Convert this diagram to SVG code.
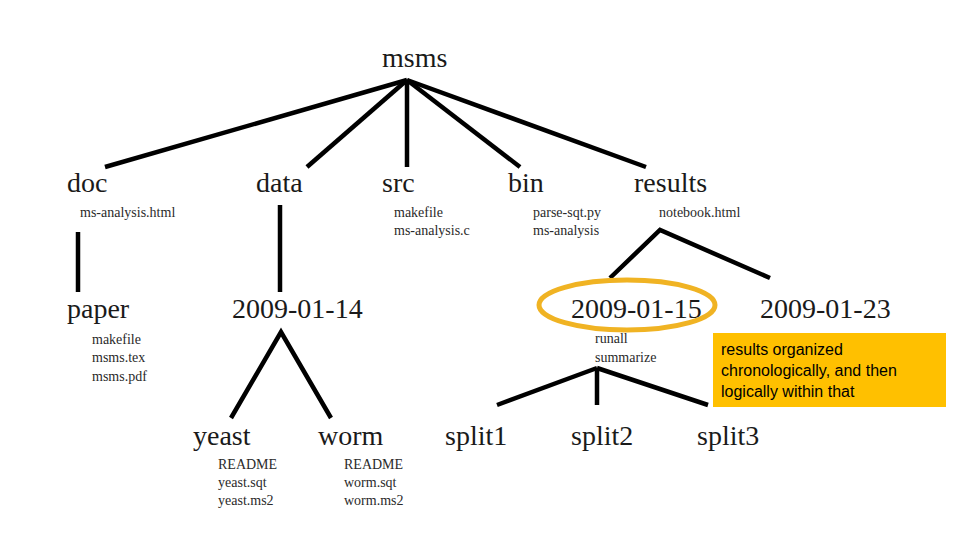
<svg xmlns="http://www.w3.org/2000/svg" width="960" height="540" viewBox="0 0 960 540">
<style>
.big{font-family:"Liberation Serif","DejaVu Serif",serif;font-size:28px;fill:#1a1a1a}
.small{font-family:"Liberation Serif","DejaVu Serif",serif;font-size:14px;fill:#2a2a2a}
.edge{stroke:#000;stroke-width:4.5;fill:none;stroke-linecap:butt}
.note{font-family:"Liberation Sans","Noto Sans",sans-serif;font-size:16px;fill:#000}
</style>
<rect width="960" height="540" fill="#fff"/>
<g id="connectors">
<line class="edge" x1="407" y1="80" x2="105" y2="167"/>
<line class="edge" x1="407" y1="80" x2="307" y2="167"/>
<line class="edge" x1="407" y1="80" x2="407" y2="167"/>
<line class="edge" x1="407" y1="80" x2="520" y2="167"/>
<line class="edge" x1="407" y1="80" x2="646" y2="167"/>
<line class="edge" x1="78" y1="232" x2="78" y2="292"/>
<line class="edge" x1="280" y1="205" x2="280" y2="292"/>
<polyline class="edge" points="610,278 660,230 770,278"/>
<polyline class="edge" points="231,418 281,332 331,418"/>
<line class="edge" x1="597" y1="368" x2="497" y2="405"/>
<line class="edge" x1="597" y1="368" x2="597" y2="405"/>
<line class="edge" x1="597" y1="368" x2="708" y2="405"/>
</g>
<g id="msms"><text class="big" x="382" y="67">msms</text></g>
<g id="doc"><text class="big" x="67" y="192">doc</text><text class="small" x="80" y="217">ms-analysis.html</text></g>
<g id="data"><text class="big" x="256" y="192">data</text></g>
<g id="src"><text class="big" x="382" y="192">src</text><text class="small" x="394" y="217">makefile</text><text class="small" x="394" y="235">ms-analysis.c</text></g>
<g id="bin"><text class="big" x="508" y="192">bin</text><text class="small" x="533" y="217">parse-sqt.py</text><text class="small" x="533" y="235">ms-analysis</text></g>
<g id="results"><text class="big" x="634" y="192">results</text><text class="small" x="659" y="217">notebook.html</text></g>
<g id="paper"><text class="big" x="67" y="318">paper</text><text class="small" x="92" y="344">makefile</text><text class="small" x="92" y="362">msms.tex</text><text class="small" x="92" y="381">msms.pdf</text></g>
<g id="d20090114"><text class="big" x="232" y="318">2009-01-14</text></g>
<g id="d20090115"><text class="big" x="571" y="318">2009-01-15</text><text class="small" x="595" y="343">runall</text><text class="small" x="595" y="362">summarize</text></g>
<g id="d20090123"><text class="big" x="760" y="318">2009-01-23</text></g>
<g id="yeast"><text class="big" x="193" y="445">yeast</text><text class="small" x="218" y="469">README</text><text class="small" x="218" y="487">yeast.sqt</text><text class="small" x="218" y="505">yeast.ms2</text></g>
<g id="worm"><text class="big" x="318" y="445">worm</text><text class="small" x="344" y="469">README</text><text class="small" x="344" y="487">worm.sqt</text><text class="small" x="344" y="505">worm.ms2</text></g>
<g id="split1"><text class="big" x="445" y="445">split1</text></g>
<g id="split2"><text class="big" x="571" y="445">split2</text></g>
<g id="split3"><text class="big" x="697" y="445">split3</text></g>
<g id="highlight"><ellipse cx="627" cy="305" rx="88" ry="25" fill="none" stroke="#F0B323" stroke-width="5"/></g>
<g id="note"><rect x="713" y="333" width="233" height="74" fill="#FFC000"/><text class="note" x="721" y="355">results organized</text><text class="note" x="721" y="376">chronologically, and then</text><text class="note" x="721" y="397">logically within that</text></g>
</svg>
